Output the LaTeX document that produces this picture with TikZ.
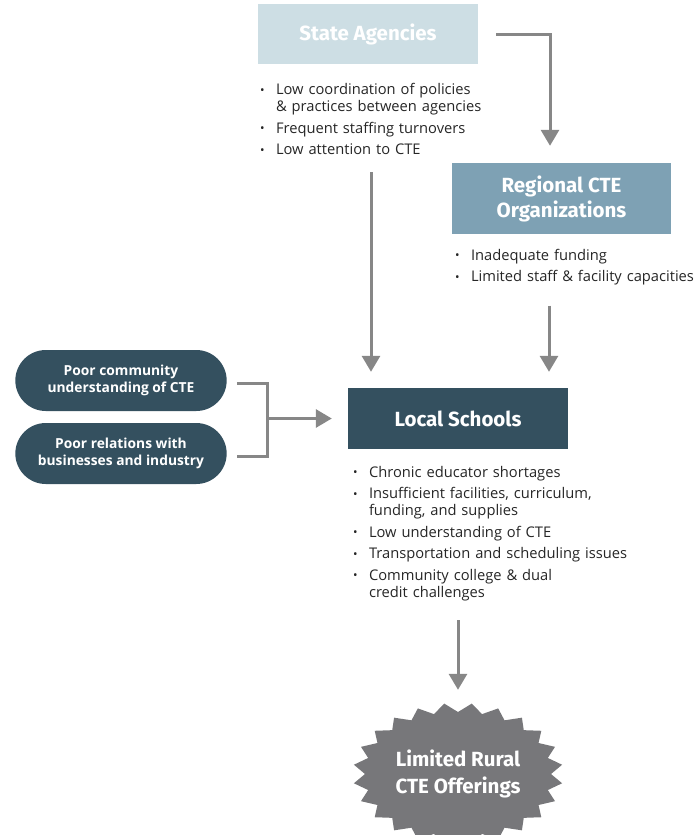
\documentclass[tikz,border=0pt]{standalone}
\usepackage{fontspec}
\setmainfont{Open Sans}
\newfontfamily\headfont{Fira Sans}
\usepackage{enumitem}
\usetikzlibrary{positioning,arrows.meta,shapes.misc}

\definecolor{statefill}{HTML}{CDDEE4}
\definecolor{regionfill}{HTML}{7EA1B4}
\definecolor{localfill}{HTML}{34505F}
\definecolor{arrowgray}{HTML}{878787}
\definecolor{burstgray}{HTML}{77777A}
\definecolor{listtext}{HTML}{262626}

\newcommand{\bulletlist}[1]{%
  \begin{itemize}[label={\raisebox{0.5pt}{\fontsize{12}{12}\selectfont\textbullet}}, align=left,
    leftmargin=16pt, labelwidth=16pt, labelsep=0pt, itemsep=4.5pt, parsep=0pt,
    topsep=0pt, partopsep=0pt]#1\end{itemize}}

\begin{document}
\begin{tikzpicture}[
        x=1pt, y=-1pt,
        headbox/.style={rectangle, minimum width=220pt, text=white, align=center, inner sep=2pt,
            font=\headfont\bfseries\fontsize{20.5}{25}\selectfont}, % Box style
        pillbox/.style={rounded rectangle, fill=localfill, minimum width=218pt, minimum height=61pt,
            text=white, align=center, font=\bfseries\fontsize{13.8}{17}\selectfont}, % Pill style
        blist/.style={inner sep=0pt, align=left, text=listtext, font=\fontsize{14.7}{17}\selectfont}, % List style
        arrow/.style={line width=3pt, draw=arrowgray, -{Triangle[width=18pt, length=16pt]}}, % Arrow style
        bracket/.style={line width=3pt, draw=arrowgray}
    ]

        \clip (0,0) rectangle (696,835);

        % Top boxes
        \node (state) [headbox, fill=statefill, minimum height=60pt] at (368,34) {State Agencies};
        \node (statelist) [blist, text width=240pt, below right=13.5pt and 2pt of state.south west] {\bulletlist{
            \item Low coordination of policies\\ \& practices between agencies
            \item Frequent staffing turnovers
            \item Low attention to CTE}};

        \node (regional) [headbox, fill=regionfill, minimum width=219pt, minimum height=71pt] at (561.5,198.5) {Regional CTE\\Organizations};
        \node (reglist) [blist, text width=240pt, below right=9pt and 3pt of regional.south west] {\bulletlist{
            \item Inadequate funding
            \item Limited staff \& facility capacities}};

        % Middle row
        \node (local) [headbox, fill=localfill, minimum height=61pt] at (458,418.5) {Local Schools};
        \node (locallist) [blist, text width=300pt, below right=11pt and 5pt of local.south west] {\bulletlist{
            \item Chronic educator shortages
            \item Insufficient facilities, curriculum,\\ funding, and supplies
            \item Low understanding of CTE
            \item Transportation and scheduling issues
            \item Community college \& dual\\ credit challenges}};

        \node (pillcomm) [pillbox] at (121,380.5) {Poor community\\understanding of CTE};
        \node (pillbiz) [pillbox] at (121,453.5) {Poor relations with\\businesses and industry};

        % Outcome
        \begin{scope}[shift={(458,774)}]
            \fill [burstgray] (97.5:105pt and 71pt) \foreach \a in {1,...,47}{
                -- ({97.5+\a*7.5}:{105pt-12pt*mod(\a,2)} and {71pt-9pt*mod(\a,2)})} -- cycle;
        \end{scope}
        \node (burst) [minimum width=210pt, minimum height=142pt, text=white, align=center,
            font=\headfont\bfseries\fontsize{20.5}{27}\selectfont] at (458,774) {Limited Rural\\CTE Offerings};

        % Connectors
        \draw [arrow, shorten <=18pt, shorten >=17pt] (state.east) -| ([xshift=-11.5pt]regional.north);
        \draw [arrow, shorten <=17pt, shorten >=16pt] ([xshift=3pt]state.south |- statelist.south) -- ([xshift=3pt]state.south |- local.north);
        \draw [arrow, shorten <=20pt, shorten >=16pt] ([xshift=-12.5pt]regional.south |- reglist.south) -- ([xshift=-12.5pt]regional.south |- local.north);
        \draw [arrow, shorten <=19pt, shorten >=13pt] (local.south |- locallist.south) -- (burst.north);

        \draw [bracket] ([xshift=10pt, yshift=-2.5pt]pillcomm.east) -- ++(31,0) coordinate (brk) |- ([xshift=10pt, yshift=-2.5pt]pillbiz.east);
        \draw [arrow, shorten >=16pt] (brk |- local.west) -- (local.west);

    \end{tikzpicture}
\end{document}
